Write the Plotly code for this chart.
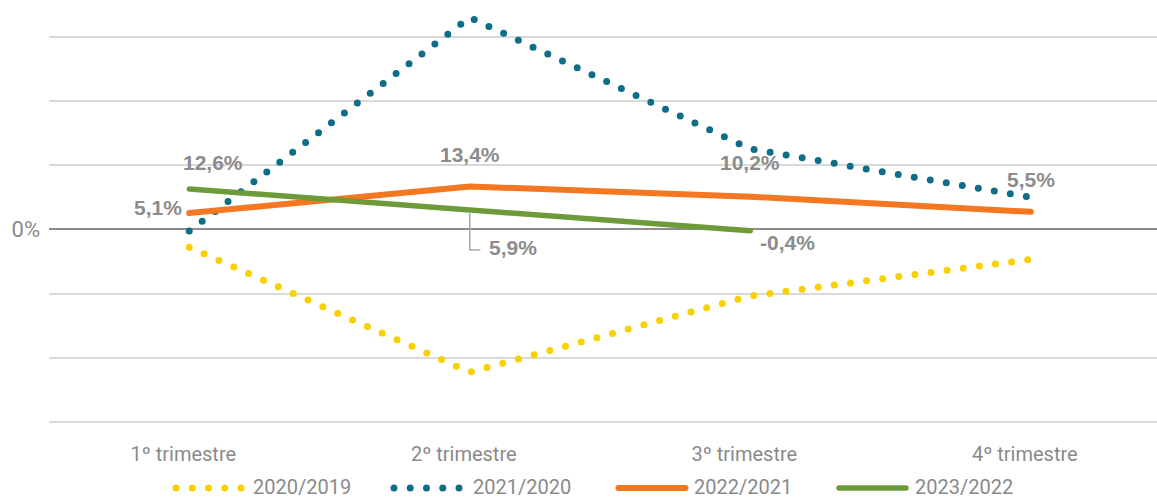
import plotly.graph_objects as go

# ---------------- data ----------------
quarters = ["1º trimestre", "2º trimestre", "3º trimestre", "4º trimestre"]
series_names = ["2020/2019", "2021/2020", "2022/2021", "2023/2022"]
v_2020_2019 = [-5.5, -44.4, -20.7, -9.3]
v_2021_2020 = [-0.5, 66.0, 25.1, 10.0]
v_2022_2021 = [5.1, 13.4, 10.2, 5.5]
v_2023_2022 = [12.6, 5.9, -0.4, None]
y_tickvals = [-60, -40, -20, 0, 20, 40, 60]
y_ticktext = ["", "", "", "0%", "", "", ""]

# ---------------- style ----------------
colors = ["#F9D000", "#0F6E87", "#F47721", "#6E9B3A"]
dashes = ["0px,16.25px", "0px,16.25px", "solid", "solid"]
widths = [7, 7, 6, 5.5]
GRAY = "#8A8A8A"
NARROW = "Roboto, Liberation Sans, sans-serif"
BOLD = "Liberation Sans, Arial, sans-serif"

W, H = 1157, 500
ML, MR, MT, MB = 49, 0, 0, 75
PW, PH = W - ML - MR, H - MT - MB

fig = go.Figure()
all_vals = [v_2020_2019, v_2021_2020, v_2022_2021, v_2023_2022]
for name, vals, c, d, w in zip(series_names, all_vals, colors, dashes, widths):
    fig.add_trace(go.Scatter(
        x=quarters, y=vals, mode="lines", name=name,
        line=dict(color=c, width=w, dash=d),
        connectgaps=False, hoverinfo="skip", showlegend=False,
    ))

# ---------------- data labels ----------------
def fmt(v):
    return f"{v:.1f}%".replace(".", ",")

labels = [
    # (series values, index, xshift, yshift)
    (v_2023_2022, 0, 24, 27),
    (v_2022_2021, 0, -31, 6),
    (v_2022_2021, 1, 0, 32),
    (v_2023_2022, 1, 43, -37),
    (v_2022_2021, 2, 0, 34),
    (v_2023_2022, 2, 37, -12),
    (v_2022_2021, 3, 0, 32),
]
for vals, i, dx, dy in labels:
    fig.add_annotation(
        x=quarters[i], y=vals[i], text=fmt(vals[i]), showarrow=False,
        xshift=dx, yshift=dy, xanchor="center", yanchor="middle",
        font=dict(family=BOLD, size=21, color="#8C8C8C", weight="bold"),
    )

# leader line for the 5,9% label
fig.add_shape(
    type="path", xref="x", yref="y",
    path="M 1,4.9 L 1,-6.4 L 1.036,-6.4",
    line=dict(color="#A8A8A8", width=1.5),
)

# ---------------- custom legend ----------------
def px_x(px):
    return (px - ML) / PW

def px_y(py):
    return (MT + PH - py) / PH

leg_y = 488
sym_x = [(176, 242), (394, 460), (618.5, 685.5), (839, 906)]
txt_x = [251, 471, 692, 913]
for name, c, d, w, (x0, x1), tx in zip(series_names, colors, dashes, widths, sym_x, txt_x):
    fig.add_shape(
        type="line", xref="paper", yref="paper",
        x0=px_x(x0), x1=px_x(x1), y0=px_y(leg_y), y1=px_y(leg_y),
        line=dict(color=c, width=w, dash=d),
    )
    fig.add_annotation(
        xref="paper", yref="paper", x=px_x(tx), y=px_y(leg_y - 1),
        text=name, showarrow=False, xanchor="left", yanchor="middle",
        font=dict(family=NARROW, size=20, color=GRAY),
    )

fig.update_layout(
    width=W, height=H,
    margin=dict(l=ML, r=MR, t=MT, b=MB, pad=0),
    paper_bgcolor="white", plot_bgcolor="white",
    showlegend=False,
    xaxis=dict(
        type="category", range=[-0.5, 3.45], showgrid=False, zeroline=False,
        showline=False, ticks="", ticklabelstandoff=15, ticklabelshift=-6,
        tickfont=dict(family=NARROW, size=20, color=GRAY),
    ),
    yaxis=dict(
        range=[-60.86, 71.44], tickvals=y_tickvals, ticktext=y_ticktext,
        showgrid=True, gridcolor="#D9D9D9", gridwidth=1.5,
        zeroline=True, zerolinecolor="#8C8C8C", zerolinewidth=2,
        showline=False, ticks="", ticklabelstandoff=8,
        tickfont=dict(family=NARROW, size=22, color=GRAY),
    ),
)

post = """
document.body.style.margin = '0';
document.body.style.padding = '0';
var gd = document.getElementById('{plot_id}');
function fixCaps(){
  gd.querySelectorAll('.scatterlayer path.js-line, .shapelayer path').forEach(function(p){
    p.style.strokeLinecap = 'round';
    p.style.strokeLinejoin = 'round';
  });
}
fixCaps();
gd.on('plotly_afterplot', fixCaps);
"""

fig.write_html("out.html", config={"displayModeBar": False}, post_script=post)
